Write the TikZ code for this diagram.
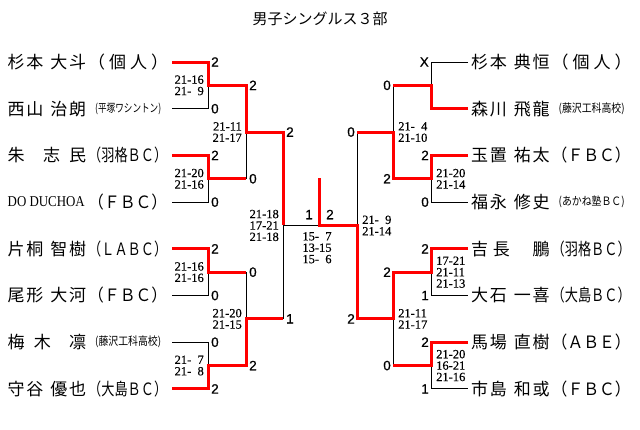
\documentclass[tikz,border=0pt]{standalone}
\usepackage{fontspec}
\setmainfont{Liberation Serif}
\newfontfamily\jp{Noto Sans CJK JP}
\newfontfamily\arialf[FakeBold=0.8]{Liberation Sans}
\newfontfamily\serf[FakeBold=0.4]{Liberation Serif}
\newfontfamily\serplain{Liberation Serif}
\newcommand\sg{\hspace{0pt plus 1pt}}
\newcommand\wg{\hspace{0pt plus 4pt}}
\newcommand\nmbox[1]{\makebox[78.5pt][s]{#1}}
\newcommand\bigteam[1]{\resizebox{79pt}{\height}{#1}}
\newcommand\smteam[1]{\resizebox{66pt}{\height}{\fontsize{11.5}{11.5}\selectfont #1}}
\newcommand\fs{\phantom{1}}
\begin{document}
\begin{tikzpicture}[x=1pt,y=-1pt,
  win/.style={draw=red,line width=3pt},
  lose/.style={draw=black,line width=1pt},
  scL/.style={anchor=west,xshift=3pt,inner sep=0pt,font=\arialf\fontsize{13.5}{13.5}\selectfont},
  scR/.style={anchor=east,xshift=-2pt,inner sep=0pt,font=\arialf\fontsize{13.5}{13.5}\selectfont},
  gsL/.style={anchor=east,xshift=-4pt,inner sep=0pt,align=right,font=\serf\fontsize{12.5}{11.4}\selectfont},
  gsR/.style={anchor=west,xshift=5pt,inner sep=0pt,align=left,font=\serf\fontsize{12.5}{11.4}\selectfont},
  nm/.style={anchor=west,inner sep=0pt,font=\jp\fontsize{17}{17}\selectfont},
  ttl/.style={inner sep=0pt,font=\jp\fontsize{15}{15}\selectfont}
]
\fill[white] (0,0) rectangle (640,429);
\useasboundingbox (0,0) rectangle (640,429);
% columns
\coordinate (xL0) at (172,0);
\coordinate (xL1) at (208,0);
\coordinate (xL2) at (246,0);
\coordinate (xL3) at (283,0);
\coordinate (xF)  at (319,0);
\coordinate (xR3) at (357,0);
\coordinate (xR2) at (393,0);
\coordinate (xR1) at (431,0);
\coordinate (xR0) at (468,0);
\coordinate (nL) at (7.5,0);
\coordinate (tL) at (88,0);
\coordinate (sL) at (95,0);
\coordinate (nR) at (471,0);
\coordinate (tR) at (551.5,0);
\coordinate (sR) at (558.5,0);
% rows
\coordinate (y1) at (0,62);
\coordinate (y2) at (0,108.7);
\coordinate (y3) at (0,155.4);
\coordinate (y4) at (0,202.1);
\coordinate (y5) at (0,248.8);
\coordinate (y6) at (0,295.5);
\coordinate (y7) at (0,342.2);
\coordinate (y8) at (0,388.9);
\coordinate (m1) at (0,85.35);
\coordinate (m2) at (0,178.75);
\coordinate (m3) at (0,272.15);
\coordinate (m4) at (0,365.55);
\coordinate (q1) at (0,132.05);
\coordinate (q2) at (0,318.85);
\coordinate (c)  at (0,225.45);
\coordinate (top) at (0,178.3);

\node[ttl] (title) at (320,19) {男子シングルス３部};

% black lines
\draw[lose] (xL1|-m1)--(xL1|-y2)--(xL0|-y2);
\draw[lose] (xL1|-m2)--(xL1|-y4)--(xL0|-y4);
\draw[lose] (xL1|-m3)--(xL1|-y6)--(xL0|-y6);
\draw[lose] (xL0|-y7)--(xL1|-y7)--(xL1|-m4);
\draw[lose] (xL2|-q1)--(xL2|-m2);
\draw[lose] (xL2|-m3)--(xL2|-q2);
\draw[lose] (xL3|-c)--(xL3|-q2);
\draw[lose] (xL3|-c)--(xF|-c);
\draw[lose] (xR0|-y1)--(xR1|-y1)--(xR1|-m1);
\draw[lose] (xR1|-m2)--(xR1|-y4)--(xR0|-y4);
\draw[lose] (xR1|-m3)--(xR1|-y6)--(xR0|-y6);
\draw[lose] (xR1|-m4)--(xR1|-y8)--(xR0|-y8);
\draw[lose] (xR2|-m1)--(xR2|-q1);
\draw[lose] (xR2|-q2)--(xR2|-m4);
\draw[lose] (xR3|-q1)--(xR3|-c);

% red lines
\draw[win] (xL0|-y1)--(xL1|-y1)--(xL1|-m1)--(xL2|-m1)--(xL2|-q1)--(xL3|-q1)--(xL3|-c);
\draw[win] (xL0|-y3)--(xL1|-y3)--(xL1|-m2)--(xL2|-m2);
\draw[win] (xL0|-y5)--(xL1|-y5)--(xL1|-m3)--(xL2|-m3);
\draw[win] (xL0|-y8)--(xL1|-y8)--(xL1|-m4)--(xL2|-m4)--(xL2|-q2)--(xL3|-q2);
\draw[win] (xR0|-y2)--(xR1|-y2)--(xR1|-m1)--(xR2|-m1);
\draw[win] (xR0|-y3)--(xR1|-y3)--(xR1|-m2)--(xR2|-m2)--(xR2|-q1)--(xR3|-q1);
\draw[win] (xR0|-y5)--(xR1|-y5)--(xR1|-m3)--(xR2|-m3)--(xR2|-q2)--(xR3|-q2)--(xR3|-c)--(xF|-c)--(xF|-top);
\draw[win] (xR0|-y7)--(xR1|-y7)--(xR1|-m4)--(xR2|-m4);

% left names
\node[nm] (nL1) at (nL|-y1) {\nmbox{杉\sg 本\wg 大\sg 斗}};
\node[nm] (nL2) at (nL|-y2) {\nmbox{西\sg 山\wg 治\sg 朗}};
\node[nm] (nL3) at (nL|-y3) {\nmbox{朱\hspace{0pt plus 2pt}志\hspace{0pt plus 1pt}民}};
\node[nm] (nL4) at (nL|-y4) {\resizebox{77pt}{\height}{\serplain\fontsize{15}{15}\selectfont DO DUCHOA}};
\node[nm] (nL5) at (nL|-y5) {\nmbox{片\sg 桐\wg 智\sg 樹}};
\node[nm] (nL6) at (nL|-y6) {\nmbox{尾\sg 形\wg 大\sg 河}};
\node[nm] (nL7) at (nL|-y7) {\nmbox{梅\hspace{0pt plus 1pt}木\hspace{0pt plus 2pt}凛}};
\node[nm] (nL8) at (nL|-y8) {\nmbox{守\sg 谷\wg 優\sg 也}};
% left teams
\node[nm] (tL1) at (tL|-y1) {\makebox[80pt][s]{（\hfill 個\hfill 人\hfill ）}};
\node[nm] (tL2) at (sL|-y2) {\smteam{(平塚ワシントン)}};
\node[nm] (tL3) at (tL|-y3) {\bigteam{（羽格ＢＣ）}};
\node[nm] (tL4) at (tL|-y4) {\bigteam{（ＦＢＣ）}};
\node[nm] (tL5) at (tL|-y5) {\bigteam{（ＬＡＢＣ）}};
\node[nm] (tL6) at (tL|-y6) {\bigteam{（ＦＢＣ）}};
\node[nm] (tL7) at (sL|-y7) {\smteam{(藤沢工科高校)}};
\node[nm] (tL8) at (tL|-y8) {\bigteam{（大島ＢＣ）}};
% right names
\node[nm] (nR1) at (nR|-y1) {\nmbox{杉\sg 本\wg 典\sg 恒}};
\node[nm] (nR2) at (nR|-y2) {\nmbox{森\sg 川\wg 飛\sg 龍}};
\node[nm] (nR3) at (nR|-y3) {\nmbox{玉\sg 置\wg 祐\sg 太}};
\node[nm] (nR4) at (nR|-y4) {\nmbox{福\sg 永\wg 修\sg 史}};
\node[nm] (nR5) at (nR|-y5) {\nmbox{吉\hspace{0pt plus 1pt}長\hspace{0pt plus 5pt}鵬}};
\node[nm] (nR6) at (nR|-y6) {\nmbox{大\sg 石\wg 一\sg 喜}};
\node[nm] (nR7) at (nR|-y7) {\nmbox{馬\sg 場\wg 直\sg 樹}};
\node[nm] (nR8) at (nR|-y8) {\nmbox{市\sg 島\wg 和\sg 或}};
% right teams
\node[nm] (tR1) at (tR|-y1) {\makebox[80pt][s]{（\hfill 個\hfill 人\hfill ）}};
\node[nm] (tR2) at (sR|-y2) {\smteam{(藤沢工科高校)}};
\node[nm] (tR3) at (tR|-y3) {\bigteam{（ＦＢＣ）}};
\node[nm] (tR4) at (sR|-y4) {\smteam{(あかね塾ＢＣ)}};
\node[nm] (tR5) at (tR|-y5) {\bigteam{（羽格ＢＣ）}};
\node[nm] (tR6) at (tR|-y6) {\bigteam{（大島ＢＣ）}};
\node[nm] (tR7) at (tR|-y7) {\bigteam{（ＡＢＥ）}};
\node[nm] (tR8) at (tR|-y8) {\bigteam{（ＦＢＣ）}};

% scores left
\node[scL] (a1) at (xL1|-y1) {2};
\node[scL] (a2) at (xL1|-y2) {0};
\node[scL] (a3) at (xL1|-y3) {2};
\node[scL] (a4) at (xL1|-y4) {0};
\node[scL] (a5) at (xL1|-y5) {2};
\node[scL] (a6) at (xL1|-y6) {0};
\node[scL] (a7) at (xL1|-y7) {0};
\node[scL] (a8) at (xL1|-y8) {2};
\node[scL] (b1) at (xL2|-m1) {2};
\node[scL] (b2) at (xL2|-m2) {0};
\node[scL] (b3) at (xL2|-m3) {0};
\node[scL] (b4) at (xL2|-m4) {2};
\node[scL] (c1) at (xL3|-q1) {2};
\node[scL] (c2) at (xL3|-q2) {1};
% scores right
\node[scR] (d1) at (xR1|-y1) {X};
\node[scR] (d3) at (xR1|-y3) {2};
\node[scR] (d4) at (xR1|-y4) {0};
\node[scR] (d5) at (xR1|-y5) {2};
\node[scR] (d6) at (xR1|-y6) {1};
\node[scR] (d7) at (xR1|-y7) {2};
\node[scR] (d8) at (xR1|-y8) {1};
\node[scR] (e1) at (xR2|-m1) {0};
\node[scR] (e2) at (xR2|-m2) {2};
\node[scR] (e3) at (xR2|-m3) {2};
\node[scR] (e4) at (xR2|-m4) {0};
\node[scR] (f1) at (xR3|-q1) {0};
\node[scR] (f2) at (xR3|-q2) {2};
% final
\node[anchor=south east,xshift=-6pt,yshift=6pt,inner sep=0pt,font=\arialf\fontsize{13.5}{13.5}\selectfont] (fl) at (xF|-c) {1};
\node[anchor=south west,xshift=7pt,yshift=6pt,inner sep=0pt,font=\arialf\fontsize{13.5}{13.5}\selectfont] (fr) at (xF|-c) {2};
\node[anchor=north,xshift=-2pt,yshift=-6.5pt,inner sep=0pt,align=left,font=\serf\fontsize{12.5}{11.4}\selectfont] (fg) at (xF|-c) {15-\fs 7\\13-15\\15-\fs 6};

% game scores left
\node[gsL] (g1) at (xL1|-m1) {21-16\\21-\fs 9};
\node[gsL] (g2) at (xL1|-m2) {21-20\\21-16};
\node[gsL] (g3) at (xL1|-m3) {21-16\\21-16};
\node[gsL] (g4) at (xL1|-m4) {21-\fs 7\\21-\fs 8};
\node[gsL] (g5) at (xL2|-q1) {21-11\\21-17};
\node[gsL] (g6) at (xL2|-q2) {21-20\\21-15};
\node[gsL] (g7) at (xL3|-c) {21-18\\17-21\\21-18};
% game scores right
\node[gsR] (h2) at (xR1|-m2) {21-20\\21-14};
\node[gsR] (h3) at (xR1|-m3) {17-21\\21-11\\21-13};
\node[gsR] (h4) at (xR1|-m4) {21-20\\16-21\\21-16};
\node[gsR] (h5) at (xR2|-q1) {21-\fs 4\\21-10};
\node[gsR] (h6) at (xR2|-q2) {21-11\\21-17};
\node[gsR] (h7) at (xR3|-c) {21-\fs 9\\21-14};
\end{tikzpicture}
\end{document}
